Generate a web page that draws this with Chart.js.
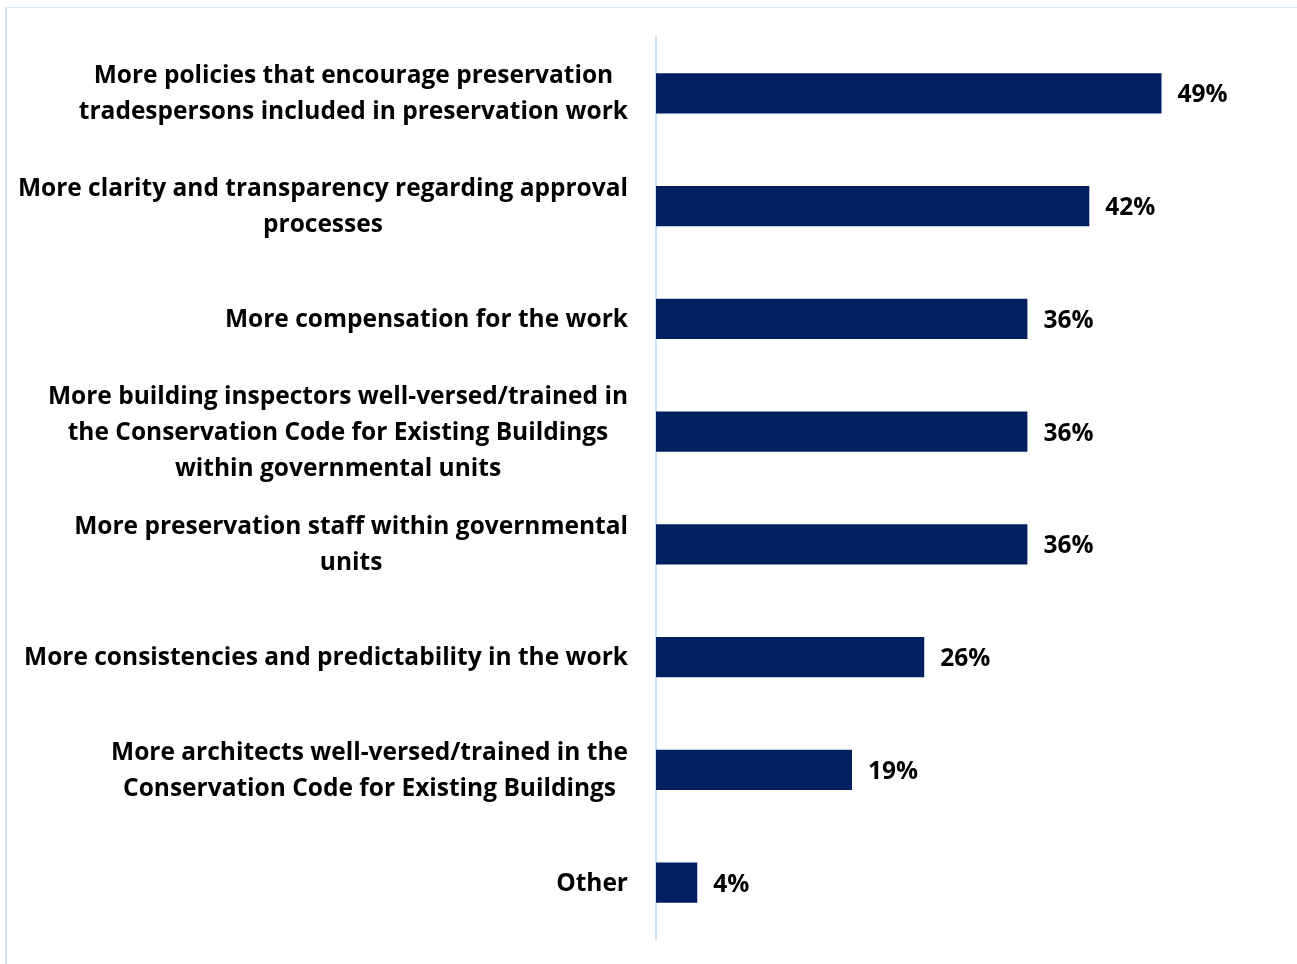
<!DOCTYPE html>
<html>
<head>
<meta charset="utf-8">
<script src="https://cdn.jsdelivr.net/npm/chart.js@4.4.1/dist/chart.umd.min.js"></script>
<style>
  html, body { margin: 0; padding: 0; background: #fff; }
  #wrap { position: relative; width: 1297px; height: 964px; }
  #frame { position: absolute; left: 5px; top: 7px; right: 0; bottom: 0; border-left: 2px solid #c9e2f8; border-top: 1px solid #d9eaf8; pointer-events: none; }
  canvas { position: absolute; left: 0; top: 0; }
</style>
</head>
<body>
<div id="wrap">
  <canvas id="c" width="1297" height="964"></canvas>
  <div id="frame"></div>
</div>
<script>
const categories = [
  ["More policies that encourage preservation", "tradespersons included in preservation work"],
  ["More clarity and transparency regarding approval", "processes"],
  ["More compensation for the work"],
  ["More building inspectors well-versed/trained in", "the Conservation Code for Existing Buildings", "within governmental units"],
  ["More preservation staff within governmental", "units"],
  ["More consistencies and predictability in the work"],
  ["More architects well-versed/trained in the", "Conservation Code for Existing Buildings"],
  ["Other"]
];
const values = [49, 42, 36, 36, 36, 26, 19, 4];
const valueLabels = ["49%", "42%", "36%", "36%", "36%", "26%", "19%", "4%"];

const FONT = 'bold 24.5px "Open Sans", sans-serif';

const labelPlugin = {
  id: 'customLabels',
  afterDatasetsDraw(chart) {
    const ctx = chart.ctx;
    const y = chart.scales.y;
    const x = chart.scales.x;
    const right = chart.chartArea.left - 28;
    ctx.save();
    ctx.font = FONT;
    ctx.fillStyle = '#000';
    ctx.textBaseline = 'middle';
    const lh = 36;
    categories.forEach((lines, i) => {
      const cy = y.getPixelForValue(i);
      let w = 0;
      lines.forEach(l => { w = Math.max(w, ctx.measureText(l).width); });
      const cx = right - w / 2;
      ctx.textAlign = 'center';
      lines.forEach((l, k) => {
        const ly = cy + (k - (lines.length - 1) / 2) * lh + 1;
        ctx.fillText(l, cx, ly);
      });
      ctx.textAlign = 'left';
      ctx.fillText(valueLabels[i], x.getPixelForValue(values[i]) + 16, cy + 2);
    });
    ctx.restore();
  }
};

new Chart(document.getElementById('c'), {
  type: 'bar',
  data: {
    labels: categories.map(c => c.join(' ')),
    datasets: [{
      data: values,
      backgroundColor: '#002060',
      borderWidth: 0,
      categoryPercentage: 1,
      barPercentage: 0.355
    }]
  },
  options: {
    indexAxis: 'y',
    responsive: false,
    animation: false,
    devicePixelRatio: 1,
    layout: { padding: { left: 656, top: 37, right: 22, bottom: 25 } },
    plugins: { legend: { display: false }, tooltip: { enabled: false } },
    scales: {
      x: { display: false, min: 0, max: 60 },
      y: {
        display: true,
        ticks: { display: false },
        grid: { display: true, drawOnChartArea: false, drawTicks: false, color: 'rgba(0,0,0,0)' },
        border: { display: true, color: '#c9e2f8', width: 2 },
        afterFit(scale) { scale.width = 0; }
      }
    }
  },
  plugins: [labelPlugin]
});
</script>
</body>
</html>
